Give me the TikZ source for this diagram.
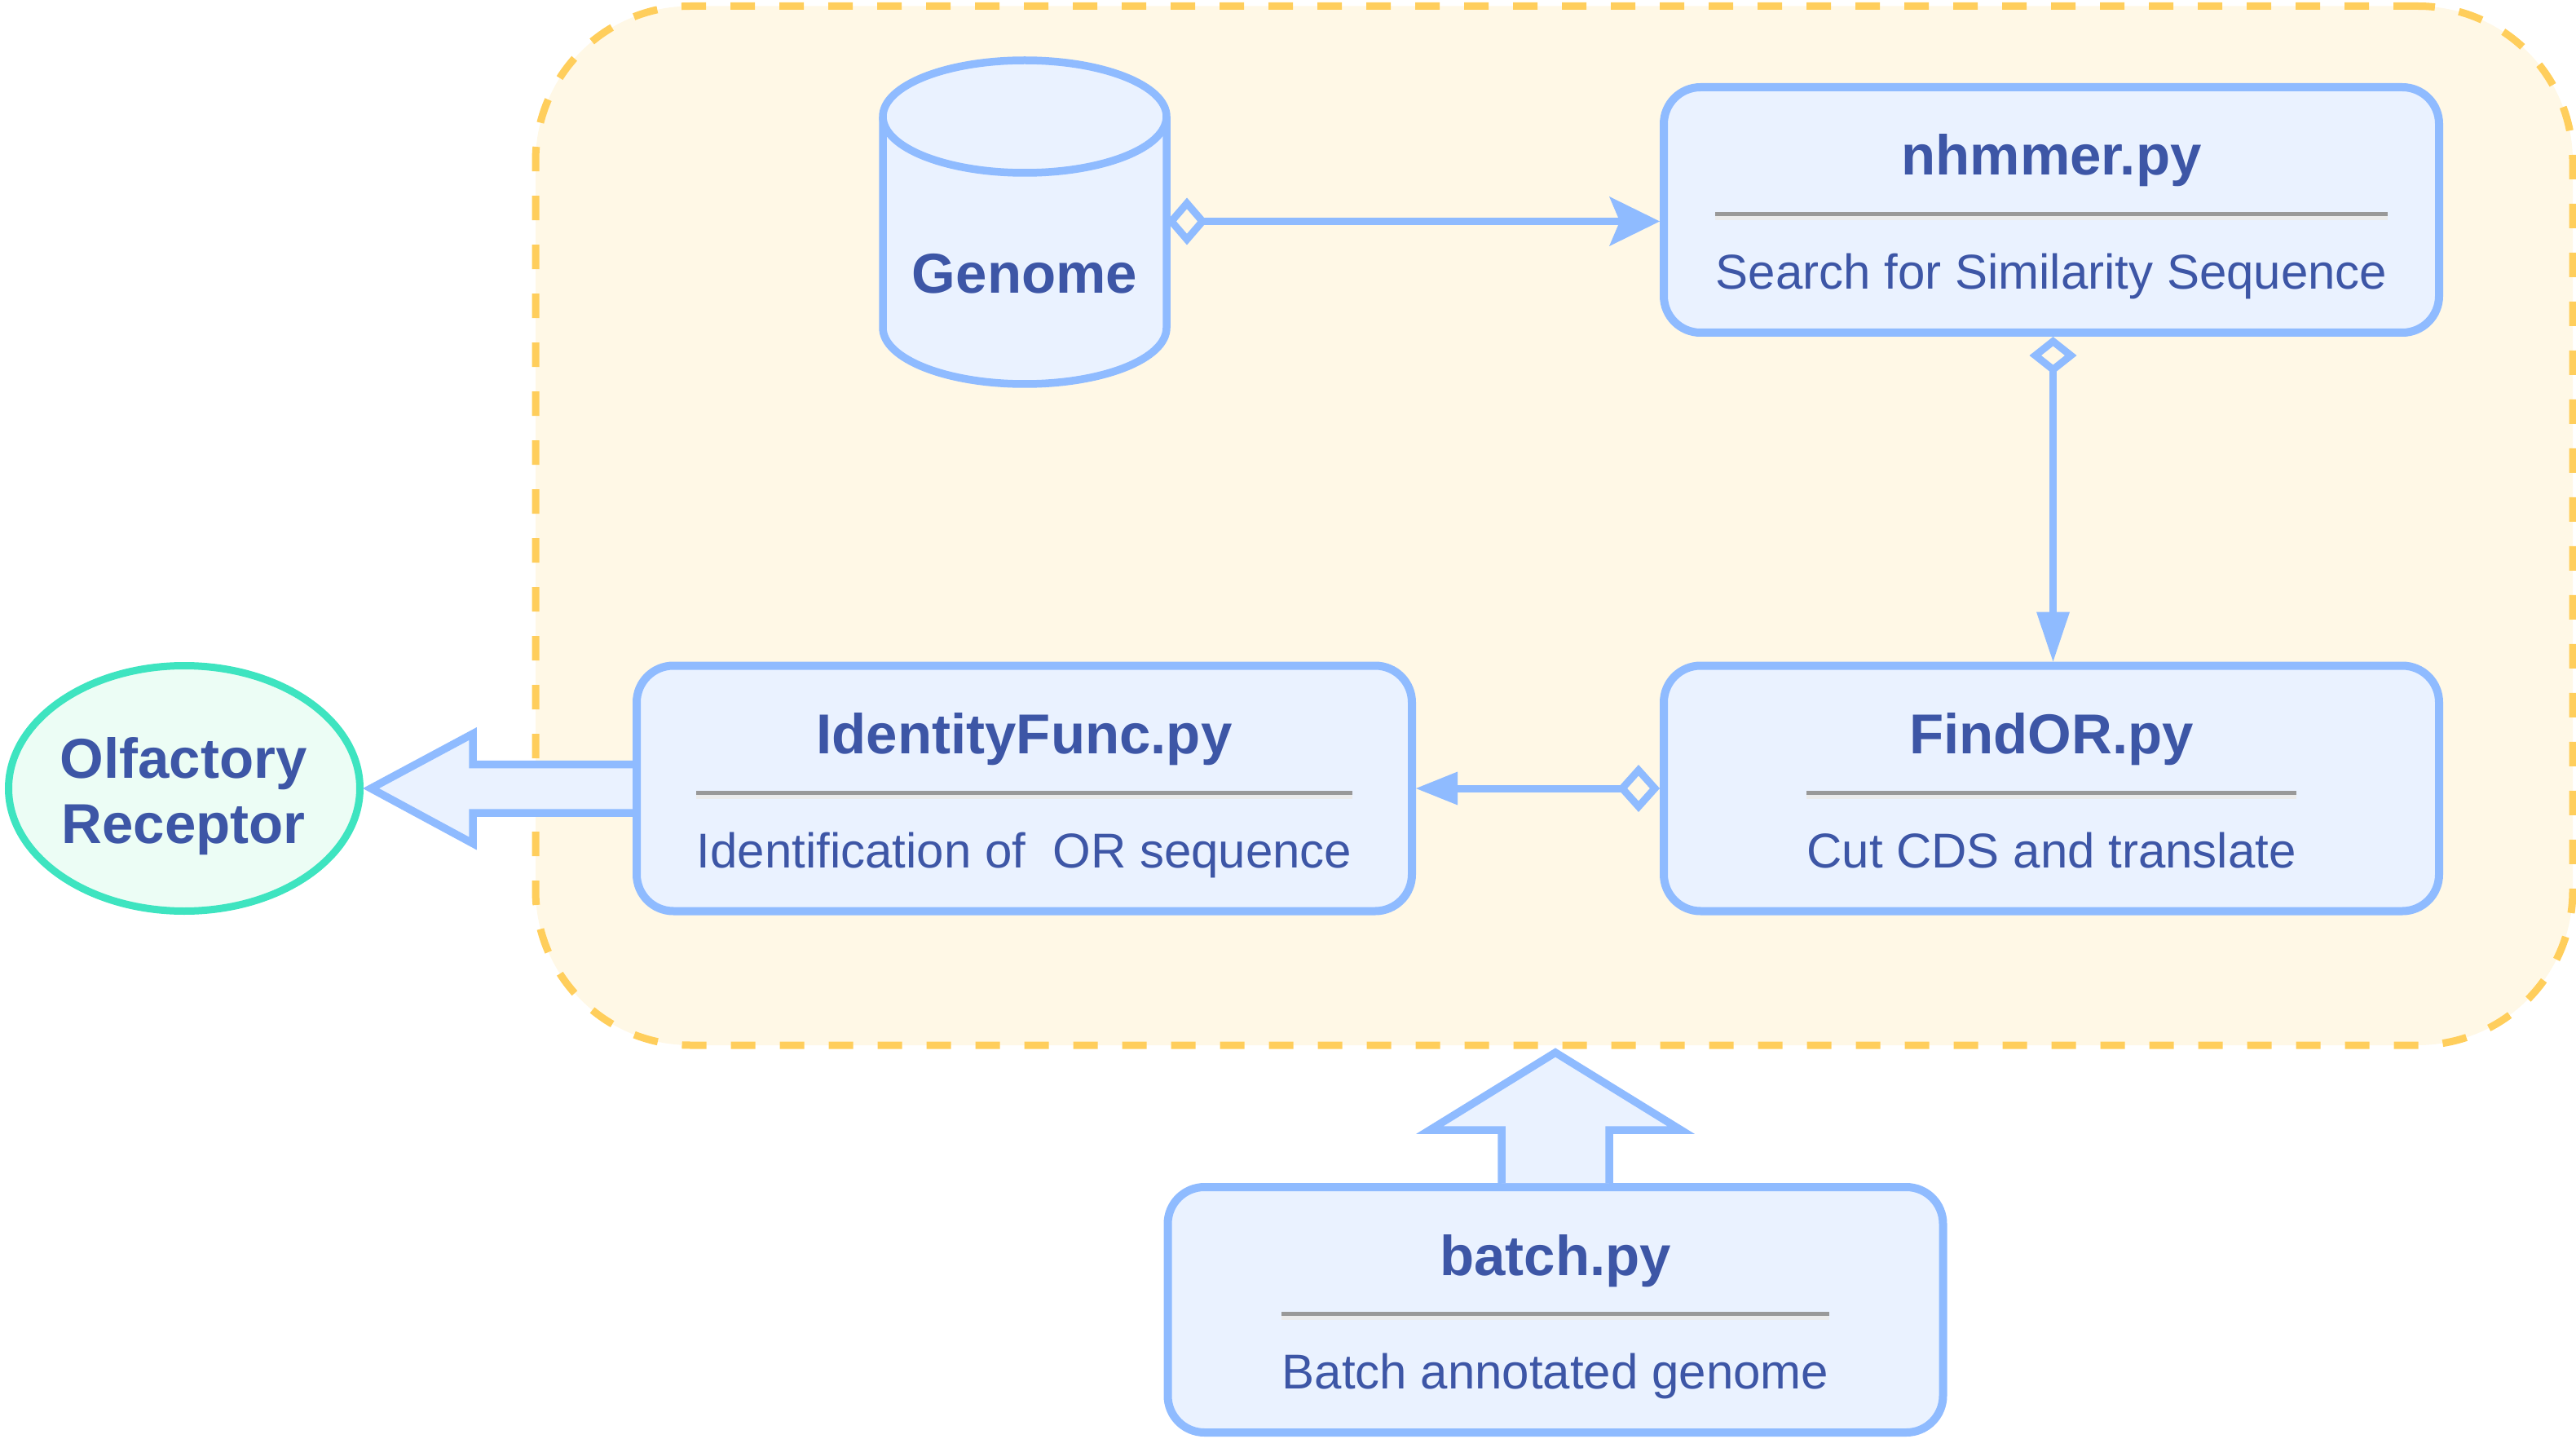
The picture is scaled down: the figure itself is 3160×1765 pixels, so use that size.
\documentclass[tikz,border=0pt]{standalone}
\usepackage{fontspec}
\setmainfont{Liberation Sans}
\usetikzlibrary{arrows.meta,shapes.geometric,calc}
\definecolor{boxfill}{HTML}{EAF2FF}
\definecolor{boxdraw}{HTML}{8FBBFF}
\definecolor{txt}{HTML}{3D56A6}
\definecolor{grpfill}{HTML}{FFF8E6}
\definecolor{grpdraw}{HTML}{FFCE5C}
\definecolor{tealdraw}{HTML}{3EE4C0}
\definecolor{mintfill}{HTML}{ECFDF5}
\definecolor{sepdark}{HTML}{999999}
\definecolor{seplight}{HTML}{EBEBEB}
\newcommand\mkbox[5]{%
  \node[procbox] (#1) at (#2,#3) {};
  \node[ttl, anchor=base] (#1-t) at ($(#1.center)+(0,-42.5)$) {#4};
  \node[subt, anchor=base] (#1-s) at ($(#1.center)+(0,97)$) {#5};
  \fill[sepdark] ($(#1-s.west |- #1.center)+(0,2.5)$) rectangle ($(#1-s.east |- #1.center)+(0,7.5)$);
  \fill[seplight] ($(#1-s.west |- #1.center)+(0,7.5)$) rectangle ($(#1-s.east |- #1.center)+(0,12.5)$);
}
\begin{document}
\begin{tikzpicture}[x=0.5pt,y=-0.5pt,
  groupframe/.style={draw=grpdraw, fill=grpfill, line width=4.5pt, dash pattern=on 15pt off 15pt,
    rounded corners=95pt, minimum width=1249.5pt, minimum height=637.25pt, inner sep=0pt},
  procbox/.style={draw=boxdraw, fill=boxfill, line width=5pt, rounded corners=22.5pt,
    minimum width=475.5pt, minimum height=150.5pt, inner sep=0pt},
  ttl/.style={text=txt, font=\fontsize{34.5}{40}\selectfont\bfseries, inner sep=0pt},
  subt/.style={text=txt, font=\fontsize{30}{36}\selectfont, inner sep=0pt},
  conn/.style={draw=boxdraw, line width=4.5pt},
  blockarr/.style={draw=boxdraw, fill=boxfill, line width=4.75pt, line join=miter},
  cyl/.style={draw=boxdraw, line width=4.75pt}
]
\useasboundingbox (0,0) rectangle (3160,1765);

% group frame
\node[groupframe] (grp) at (1906.5,644.75) {};

% genome cylinder
\node[inner sep=0pt, outer sep=0pt, minimum width=174pt, minimum height=200pt] (genome) at (1257,271.5) {};
\fill[boxfill] (1083,143) -- (1083,402) arc[start angle=180,end angle=360,x radius=87pt,y radius=34.5pt]
  -- (1431,143) arc[start angle=0,end angle=180,x radius=87pt,y radius=34.5pt] -- cycle;
\draw[cyl] (1083,143) -- (1083,402) arc[start angle=180,end angle=360,x radius=87pt,y radius=34.5pt] -- (1431,143);
\draw[cyl] (1257,143) ellipse[x radius=87pt, y radius=34.5pt];
\node[ttl, anchor=base] (genome-t) at ($(genome.center)+(0,88.5)$) {Genome};

% olfactory receptor
\node[ellipse, draw=tealdraw, fill=mintfill, line width=4.5pt, minimum width=215.5pt,
  minimum height=150.5pt, inner sep=0pt] (olf) at (226,967) {};
\node[align=center, text=txt, inner sep=0pt, font=\fontsize{34.5}{40}\selectfont\bfseries]
  (olf-t) at ($(olf.center)+(-1,10)$) {Olfactory\\Receptor};

% boxes
\mkbox{nh}{2516.5}{257.5}{nhmmer.py}{Search for Similarity Sequence}
\mkbox{find}{2516.5}{967}{FindOR.py}{Cut CDS and translate}
\mkbox{batch}{1908}{1606.5}{batch.py}{Batch annotated genome}

% block arrow to receptor (drawn before IdentityFunc box)
\filldraw[blockarr] ($(olf.east)+(331,-29.5)$) -- ++(-197,0) -- ++(0,-37.5)
  -- ([xshift=4.5pt]olf.east) -- ++(125,67.5) -- ++(0,-37.5) -- ++(197,0);
\mkbox{idf}{1256.5}{967}{IdentityFunc.py}{Identification of\ \ OR sequence}

% block arrow up from batch
\filldraw[blockarr] ($(batch.north)+(-66,0)$) -- ++(0,-65) -- ++(-88,0) -- ++(154,-95)
  -- ++(154,95) -- ++(-88,0) -- ++(0,65);

% connectors
\draw[conn, {Diamond[open,length=25pt,width=29pt]}-{Stealth[length=31pt,width=30.5pt,inset=6.5pt,line width=0pt]}]
  (genome.east) -- (genome.east -| nh.west);
\draw[conn, {Diamond[open,length=23pt,width=29pt]}-{Triangle[length=30.5pt,width=20.5pt,line width=0pt]}]
  ([xshift=1pt]nh.south) -- ([xshift=1pt]find.north);
\draw[conn, {Diamond[open,length=26pt,width=29pt]}-{Triangle[length=25.5pt,width=20.5pt,line width=0pt]}]
  (find.west) -- (idf.east);
\end{tikzpicture}
\end{document}
